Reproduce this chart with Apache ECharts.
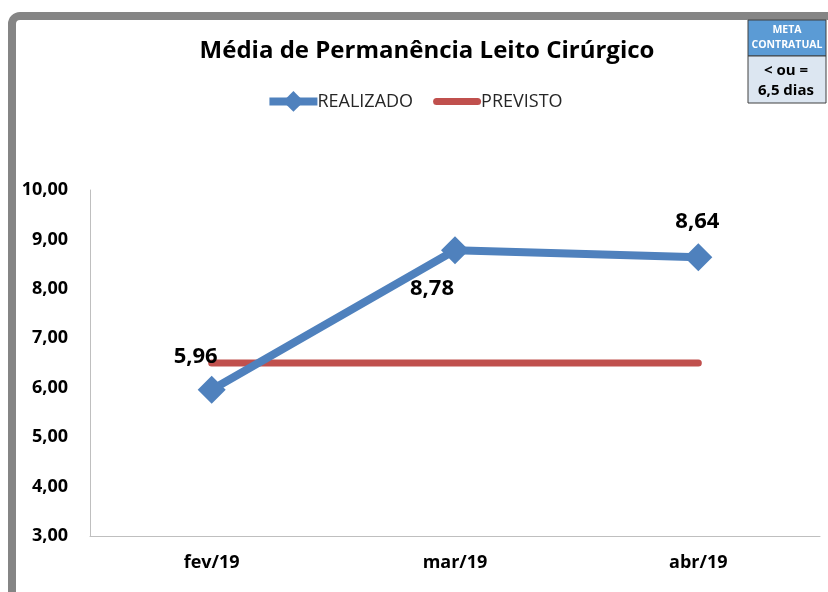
<!DOCTYPE html>
<html>
<head>
<meta charset="utf-8">
<script src="https://cdn.jsdelivr.net/npm/echarts@6/dist/echarts.min.js"></script>
<style>
  html, body { margin: 0; padding: 0; background: #fff; }
  #chart { width: 828px; height: 592px; }
</style>
</head>
<body>
<div id="chart"></div>
<script>
const meses = ['fev/19', 'mar/19', 'abr/19'];
const realizado = [5.96, 8.78, 8.64];
const previsto = [6.5, 6.5, 6.5];
// posição dos rótulos de cada ponto
const labelOffsets = [[-16, -33], [-23, 38], [-1, -35]];

const fmt = v => v.toFixed(2).replace('.', ',');
const font = '"Open Sans", "Noto Sans", sans-serif';

const chart = echarts.init(document.getElementById('chart'));

const option = {
  animation: false,
  textStyle: { fontFamily: font },
  title: {
    text: 'Média de Permanência Leito Cirúrgico',
    left: 422, top: 34, textAlign: 'center',
    textStyle: { fontSize: 24, fontWeight: 'bold', color: '#000', fontFamily: font }
  },
  legend: {
    left: 'center', top: 86,
    itemWidth: 48, itemHeight: 26, itemGap: 20,
    lineStyle: { width: 8 },
    textStyle: { fontSize: 18, color: '#262626', padding: [0, 0, 0, -5] },
    data: [
      { name: 'REALIZADO' },
      { name: 'PREVISTO', icon: 'path://M3.5,0H44.5A3.5,3.5,0,0,1,44.5,7H3.5A3.5,3.5,0,0,1,3.5,0Z' }
    ]
  },
  grid: { left: 90, right: 8, top: 190, bottom: 56 },
  xAxis: {
    type: 'category',
    data: meses,
    axisLine: { lineStyle: { color: '#bfbfbf', width: 1 } },
    axisTick: { show: false },
    axisLabel: { fontSize: 18, fontWeight: 'bold', color: '#000', margin: 18 }
  },
  yAxis: {
    type: 'value', min: 3, max: 10, interval: 1,
    axisLine: { show: true, lineStyle: { color: '#bfbfbf', width: 1 } },
    axisTick: { show: false },
    splitLine: { show: false },
    axisLabel: { fontSize: 18, fontWeight: 'bold', color: '#000', margin: 22, formatter: v => fmt(v) }
  },
  series: [
    {
      name: 'PREVISTO', type: 'line', data: previsto,
      symbol: 'none', z: 2,
      lineStyle: { color: '#c0504d', width: 7, cap: 'round' },
      itemStyle: { color: '#c0504d' }
    },
    {
      name: 'REALIZADO', type: 'line', z: 3,
      data: realizado.map((v, i) => ({
        value: v,
        label: { offset: labelOffsets[i] }
      })),
      symbol: 'diamond', symbolSize: 28,
      lineStyle: { color: '#4f81bd', width: 8 },
      itemStyle: { color: '#4f81bd' },
      label: {
        show: true, position: 'inside', formatter: p => fmt(p.value),
        fontSize: 22, fontWeight: 'bold', color: '#000'
      }
    }
  ],
  graphic: [
    {
      type: 'rect', z: 10,
      shape: { x: 12, y: 16, width: 900, height: 700, r: 8 },
      style: { fill: 'none', stroke: '#858585', lineWidth: 8 }
    },
    {
      type: 'rect', z: 11,
      shape: { x: 748, y: 20, width: 78, height: 36 },
      style: { fill: '#5b9bd5', stroke: '#404040', lineWidth: 1 }
    },
    {
      type: 'rect', z: 11,
      shape: { x: 748, y: 56, width: 78, height: 47 },
      style: { fill: '#dce6f1', stroke: '#404040', lineWidth: 1 }
    },
    {
      type: 'text', z: 12, x: 787, y: 38,
      style: { text: 'META\nCONTRATUAL', fill: '#fff', font: 'bold 10.5px ' + font, align: 'center', verticalAlign: 'middle', lineHeight: 15 }
    },
    {
      type: 'text', z: 12, x: 786, y: 81,
      style: { text: '< ou =\n6,5 dias', fill: '#000', font: 'bold 15px ' + font, align: 'center', verticalAlign: 'middle', lineHeight: 20 }
    }
  ]
};

chart.setOption(option);
</script>
</body>
</html>
